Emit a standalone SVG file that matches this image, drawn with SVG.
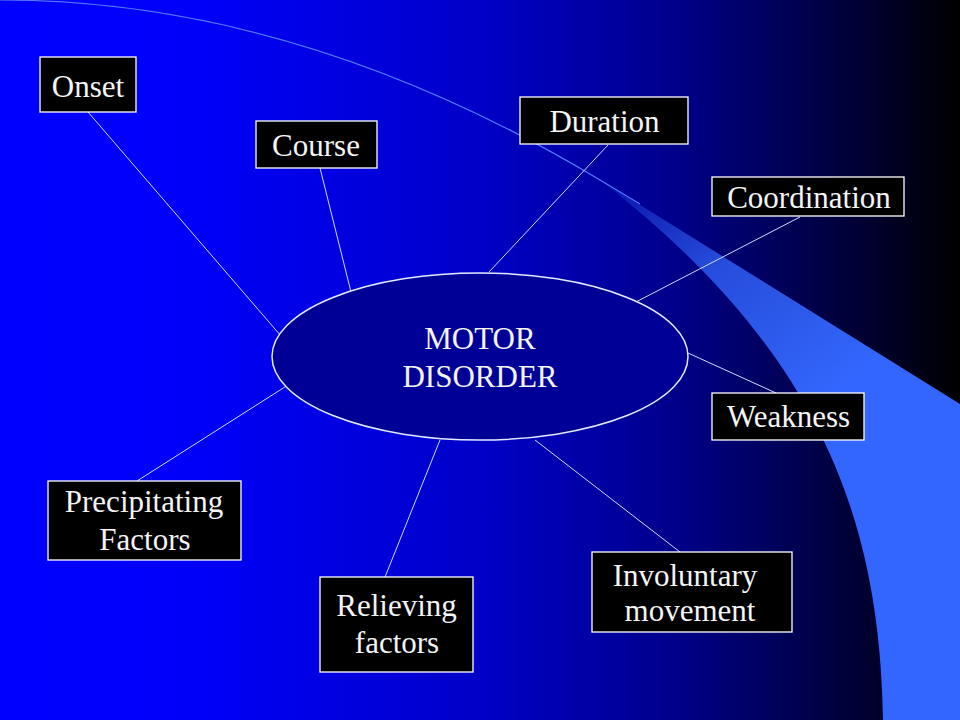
<svg xmlns="http://www.w3.org/2000/svg" width="960" height="720" viewBox="0 0 960 720">
  <defs>
    <linearGradient id="bg" x1="0" y1="0" x2="960" y2="0" gradientUnits="userSpaceOnUse">
      <stop offset="0" stop-color="#0000FF"/>
      <stop offset="0.2" stop-color="#0000FA"/>
      <stop offset="0.5" stop-color="#0000C8"/>
      <stop offset="0.7" stop-color="#00008C"/>
      <stop offset="0.83" stop-color="#000052"/>
      <stop offset="0.92" stop-color="#000028"/>
      <stop offset="1" stop-color="#000000"/>
    </linearGradient>
    <linearGradient id="swoosh" x1="600" y1="180" x2="800" y2="420" gradientUnits="userSpaceOnUse">
      <stop offset="0" stop-color="#3366FF" stop-opacity="0.15"/>
      <stop offset="0.45" stop-color="#3366FF" stop-opacity="0.75"/>
      <stop offset="1" stop-color="#3366FF" stop-opacity="1"/>
    </linearGradient>
  </defs>
  <style>
    .box { fill: #000000; stroke: #FFFFFF; stroke-width: 1.3; }
    .lbl { fill: #F4F4F4; font-family: "Liberation Serif", "Times New Roman", serif; font-size: 31px; text-anchor: middle; }
    .conn line { stroke: #D0D8FF; stroke-width: 1; }
  </style>

  <rect x="0" y="0" width="960" height="720" fill="url(#bg)"/>
  <path d="M 600 180 L 960 404 L 960 720 L 883 720 C 880 520 820 350 600 180 Z" fill="url(#swoosh)"/>
  <path d="M 0 0 Q 300 0 600 180 L 640 204" fill="none" stroke="#5577FF" stroke-width="1.2"/>

  <g id="connectors" class="conn">
    <line x1="88" y1="112" x2="281" y2="336"/>
    <line x1="320" y1="168" x2="352" y2="296"/>
    <line x1="608" y1="145" x2="489" y2="272"/>
    <line x1="800" y1="217" x2="632" y2="304"/>
    <line x1="688" y1="353" x2="776" y2="393"/>
    <line x1="535" y1="440" x2="680" y2="552"/>
    <line x1="440" y1="440" x2="385" y2="577"/>
    <line x1="288" y1="385" x2="137" y2="481"/>
  </g>

  <g id="motor-disorder">
    <ellipse cx="480" cy="356.5" rx="208" ry="83.5" fill="#000096" stroke="#E4EAFF" stroke-width="1.5"/>
    <text class="lbl" x="480" y="349">MOTOR</text>
    <text class="lbl" x="480" y="387">DISORDER</text>
  </g>

  <g id="onset">
    <rect class="box" x="40" y="57" width="96" height="55"/>
    <text class="lbl" x="88" y="97">Onset</text>
  </g>
  <g id="course">
    <rect class="box" x="256" y="121" width="121" height="47"/>
    <text class="lbl" x="316" y="156">Course</text>
  </g>
  <g id="duration">
    <rect class="box" x="520" y="97" width="168" height="47"/>
    <text class="lbl" x="604.5" y="132">Duration</text>
  </g>
  <g id="coordination">
    <rect class="box" x="712" y="177" width="192" height="39"/>
    <text class="lbl" x="809" y="208">Coordination</text>
  </g>
  <g id="weakness">
    <rect class="box" x="712" y="393" width="152" height="47"/>
    <text class="lbl" x="788.5" y="427">Weakness</text>
  </g>
  <g id="involuntary-movement">
    <rect class="box" x="592" y="552" width="200" height="80"/>
    <text class="lbl" x="685" y="586">Involuntary</text>
    <text class="lbl" x="690" y="621">movement</text>
  </g>
  <g id="relieving-factors">
    <rect class="box" x="320" y="577" width="153" height="95"/>
    <text class="lbl" x="396.5" y="616">Relieving</text>
    <text class="lbl" x="397" y="653">factors</text>
  </g>
  <g id="precipitating-factors">
    <rect class="box" x="48" y="481" width="193" height="79"/>
    <text class="lbl" x="144" y="512">Precipitating</text>
    <text class="lbl" x="145" y="550">Factors</text>
  </g>
</svg>
